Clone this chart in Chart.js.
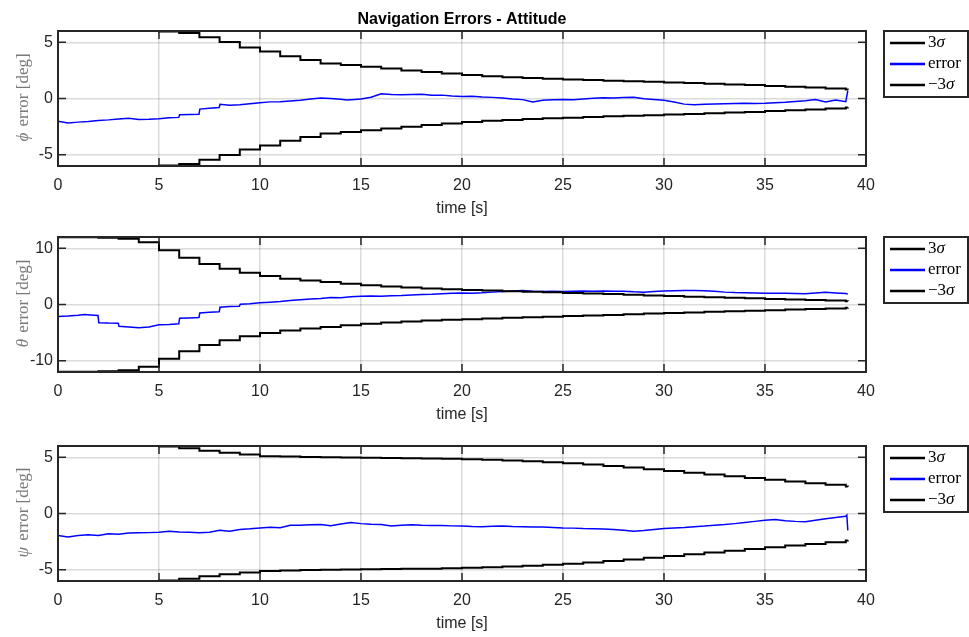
<!DOCTYPE html>
<html>
<head>
<meta charset="utf-8">
<script src="https://cdn.jsdelivr.net/npm/chart.js@4.4.1/dist/chart.umd.min.js"></script>
<style>
  html, body { margin: 0; padding: 0; background: #fff; }
  #wrap { position: relative; width: 969px; height: 637px; overflow: hidden; }
  canvas { position: absolute; left: 0; }
</style>
</head>
<body>
<div id="wrap">
  <canvas id="c1" width="969" height="222" style="top:0px"></canvas>
  <canvas id="c2" width="969" height="222" style="top:206px"></canvas>
  <canvas id="c3" width="969" height="222" style="top:415px"></canvas>
</div>
<script>
// ---- data ----
const chartTitle = 'Navigation Errors - Attitude';
const xLabel = 'time [s]';
const xTicks = [0, 5, 10, 15, 20, 25, 30, 35, 40];
const legendLabels = ['3σ', 'error', '−3σ'];

const yLabel1 = ['ϕ', ' error [deg]'];
const yLabel2 = ['θ', ' error [deg]'];
const yLabel3 = ['ψ', ' error [deg]'];
const yTicks1 = [-5, 0, 5];
const yTicks2 = [-10, 0, 10];
const yTicks3 = [-5, 0, 5];
const yRange1 = [-6, 6];
const yRange2 = [-12, 12];
const yRange3 = [-6, 6];

// 3-sigma bound, one value per filter step (seconds)
const sigT = [0, 1, 2, 3, 4, 5, 6, 7, 8, 9, 10, 11, 12, 13, 14, 15, 16, 17, 18, 19,
  20, 21, 22, 23, 24, 25, 26, 27, 28, 29, 30, 31, 32, 33, 34, 35, 36, 37, 38, 39, 39.1];
const sig1 = [6.0, 6.0, 6.0, 6.0, 6.0, 5.96, 5.82, 5.44, 5.02, 4.54, 4.18, 3.76, 3.42, 3.12, 2.98,
  2.82, 2.66, 2.5, 2.36, 2.22, 2.08, 1.98, 1.9, 1.82, 1.76, 1.7, 1.64, 1.58, 1.53, 1.48,
  1.43, 1.37, 1.31, 1.25, 1.19, 1.12, 1.05, 0.97, 0.89, 0.8, 0.78];
const sig2 = [11.95, 11.95, 11.85, 11.7, 11.05, 9.65, 8.3, 7.2, 6.35, 5.65, 5.05, 4.6, 4.25, 4.0, 3.7,
  3.42, 3.2, 3.02, 2.86, 2.72, 2.6, 2.48, 2.37, 2.26, 2.16, 2.06, 1.96, 1.85, 1.74, 1.62,
  1.5, 1.4, 1.3, 1.2, 1.1, 1.0, 0.9, 0.8, 0.7, 0.58, 0.56];
const sig3 = [6.0, 6.0, 6.0, 6.0, 6.0, 5.95, 5.79, 5.58, 5.4, 5.24, 5.1, 5.06, 5.03, 5.0, 4.98,
  4.96, 4.94, 4.92, 4.9, 4.87, 4.83, 4.78, 4.72, 4.64, 4.55, 4.46, 4.35, 4.22, 4.08, 3.93,
  3.78, 3.62, 3.47, 3.32, 3.16, 3.0, 2.85, 2.7, 2.55, 2.4, 2.38];

// estimation errors
const e1T = [0, 0.5, 1, 1.5, 2, 2.5, 3, 3.5, 4, 4.5, 5, 5.5, 5.98, 6.02, 6.5, 6.98, 7.02, 7.5, 7.98, 8.02,
  8.5, 9, 9.5, 10, 10.5, 11, 11.5, 12, 12.5, 13, 13.5, 14, 14.3, 14.7, 15, 15.5, 16, 16.5, 17, 17.5,
  18, 18.5, 19, 19.5, 20, 20.5, 21, 21.5, 22, 22.5, 23, 23.5, 24, 24.5, 25, 25.5, 26, 26.5, 27, 27.5,
  28, 28.5, 29, 29.5, 30, 30.5, 31, 31.5, 32, 32.5, 33, 33.5, 34, 34.5, 35, 35.5, 36, 36.5, 37, 37.5,
  38, 38.5, 39, 39.1];
const e1 = [-2.02, -2.18, -2.1, -2.04, -1.96, -1.9, -1.82, -1.76, -1.86, -1.84, -1.8, -1.72, -1.68, -1.44, -1.42, -1.4, -0.94, -0.86, -0.8, -0.52,
  -0.6, -0.55, -0.46, -0.38, -0.3, -0.28, -0.22, -0.16, -0.04, 0.04, 0.0, -0.06, -0.14, -0.08, -0.04, 0.12, 0.42, 0.36, 0.34, 0.36,
  0.38, 0.3, 0.3, 0.22, 0.18, 0.2, 0.14, 0.1, 0.04, -0.04, -0.1, -0.32, -0.16, -0.12, -0.1, -0.12, -0.04, 0.02, 0.06, 0.04,
  0.08, 0.12, -0.02, -0.08, -0.16, -0.32, -0.5, -0.56, -0.52, -0.48, -0.46, -0.44, -0.42, -0.44, -0.42, -0.38, -0.34, -0.26, -0.2, -0.1,
  -0.3, -0.14, -0.28, 0.7];

const e2T = [0, 0.5, 1, 1.3, 1.6, 1.98, 2.02, 2.5, 2.98, 3.02, 3.5, 4, 4.5, 5, 5.5, 5.98, 6.02, 6.5, 6.98, 7.02,
  7.5, 7.98, 8.02, 8.5, 8.98, 9.02, 9.5, 10, 10.5, 11, 11.5, 12, 12.5, 13, 13.5, 14, 14.5, 15, 15.5, 16,
  16.5, 17, 17.5, 18, 18.5, 19, 19.5, 20, 20.5, 21, 21.5, 22, 22.5, 23, 23.5, 24, 24.5, 25, 25.5, 26,
  26.5, 27, 27.5, 28, 28.5, 29, 29.5, 30, 30.5, 31, 31.5, 32, 32.5, 33, 33.5, 34, 34.5, 35, 35.5, 36,
  36.5, 37, 37.5, 38, 38.5, 39, 39.1];
const e2 = [-2.12, -2.06, -1.92, -1.78, -1.86, -1.94, -3.24, -3.3, -3.32, -3.88, -3.98, -4.14, -4.0, -3.62, -3.56, -3.44, -2.44, -2.38, -2.3, -1.5,
  -1.38, -1.3, -0.5, -0.36, -0.3, 0.04, 0.12, 0.3, 0.4, 0.52, 0.7, 0.84, 0.96, 1.08, 1.26, 1.2, 1.36, 1.48, 1.52, 1.46,
  1.56, 1.6, 1.7, 1.78, 1.82, 1.9, 2.0, 2.06, 2.02, 2.08, 2.2, 2.3, 2.4, 2.48, 2.36, 2.3, 2.34, 2.3, 2.36, 2.38,
  2.34, 2.38, 2.36, 2.36, 2.26, 2.2, 2.3, 2.38, 2.46, 2.48, 2.5, 2.46, 2.34, 2.2, 2.12, 2.08, 2.04, 2.0, 2.02, 2.0,
  1.94, 1.9, 2.04, 2.18, 2.06, 1.96, 1.84];

const e3T = [0, 0.5, 1, 1.5, 2, 2.5, 3, 3.5, 4, 4.5, 5, 5.5, 6, 6.5, 7, 7.5, 8, 8.5, 9, 9.5,
  10, 10.5, 11, 11.5, 12, 12.5, 13, 13.5, 14, 14.5, 15, 15.5, 16, 16.5, 17, 17.5, 18, 18.5, 19, 19.5,
  20, 20.5, 21, 21.5, 22, 22.5, 23, 23.5, 24, 24.5, 25, 25.5, 26, 26.5, 27, 27.5, 28, 28.5, 29, 29.5,
  30, 30.5, 31, 31.5, 32, 32.5, 33, 33.5, 34, 34.5, 35, 35.5, 36, 36.5, 37, 37.5, 38, 38.5, 39, 39.05, 39.1];
const e3 = [-1.96, -2.08, -1.96, -1.88, -1.96, -1.8, -1.84, -1.74, -1.72, -1.7, -1.66, -1.58, -1.64, -1.66, -1.7, -1.66, -1.5, -1.58, -1.42, -1.36,
  -1.28, -1.22, -1.26, -1.04, -1.04, -1.0, -0.98, -1.08, -0.94, -0.8, -0.9, -0.96, -0.98, -1.12, -1.04, -1.0, -1.04, -1.06, -1.06, -1.1,
  -1.12, -1.16, -1.18, -1.14, -1.12, -1.16, -1.18, -1.2, -1.2, -1.24, -1.28, -1.3, -1.34, -1.36, -1.38, -1.42, -1.48, -1.58, -1.52, -1.42,
  -1.34, -1.28, -1.24, -1.18, -1.12, -1.04, -0.98, -0.9, -0.8, -0.7, -0.6, -0.54, -0.64, -0.7, -0.74, -0.6, -0.46, -0.36, -0.24, -0.14, -1.5];

// ---- styling ----
const axisColor = '#262626';
const sansFont = '"Liberation Sans", Arial, Helvetica, sans-serif';
const serifFont = '"Liberation Serif", "DejaVu Serif", "Times New Roman", serif';

const toPoints = (ts, vs, sign = 1) => ts.map((t, i) => ({ x: t, y: sign * vs[i] }));

// draws the MATLAB-like box, inward ticks, axis labels and legend
const matlabAxes = {
  id: 'matlabAxes',
  afterDatasetsDraw(chart, args, opts) {
    const { ctx, chartArea: a, scales } = chart;
    ctx.save();

    // inward tick marks on all four sides
    ctx.strokeStyle = axisColor;
    ctx.lineWidth = 1.5;
    ctx.beginPath();
    xTicks.forEach(v => {
      const px = scales.x.getPixelForValue(v);
      ctx.moveTo(px, a.bottom); ctx.lineTo(px, a.bottom - 8);
      ctx.moveTo(px, a.top); ctx.lineTo(px, a.top + 8);
    });
    opts.yTicks.forEach(v => {
      const py = scales.y.getPixelForValue(v);
      ctx.moveTo(a.left, py); ctx.lineTo(a.left + 8, py);
      ctx.moveTo(a.right, py); ctx.lineTo(a.right - 8, py);
    });
    ctx.stroke();

    ctx.lineWidth = 2;
    ctx.strokeRect(a.left, a.top, a.right - a.left, a.bottom - a.top);

    // x axis label
    ctx.fillStyle = axisColor;
    ctx.font = '16px ' + sansFont;
    ctx.textAlign = 'center';
    ctx.textBaseline = 'middle';
    ctx.fillText(xLabel, (a.left + a.right) / 2, a.bottom + 43);

    // title (first panel only)
    if (opts.title) {
      ctx.font = 'bold 16px ' + sansFont;
      ctx.textBaseline = 'alphabetic';
      ctx.fillStyle = '#000';
      ctx.fillText(opts.title, (a.left + a.right) / 2, 24);
    }

    // y axis label, rotated, greek symbol in italic
    ctx.save();
    ctx.translate(24, (a.top + a.bottom) / 2);
    ctx.rotate(-Math.PI / 2);
    ctx.fillStyle = '#7a7a7a';
    ctx.textBaseline = 'middle';
    ctx.textAlign = 'left';
    const symFont = 'italic 17px ' + serifFont;
    const txtFont = '17px ' + serifFont;
    ctx.font = symFont;
    const w1 = ctx.measureText(opts.yLabel[0]).width;
    ctx.font = txtFont;
    const w2 = ctx.measureText(opts.yLabel[1]).width;
    let sx = -(w1 + w2) / 2;
    ctx.font = symFont;
    ctx.fillText(opts.yLabel[0], sx, 0);
    ctx.font = txtFont;
    ctx.fillText(opts.yLabel[1], sx + w1 + 2, 0);
    ctx.restore();

    // legend box
    const lx = 884, ly = a.top, lw = 84, lh = 66;
    ctx.fillStyle = '#fff';
    ctx.fillRect(lx, ly, lw, lh);
    ctx.strokeStyle = axisColor;
    ctx.lineWidth = 2;
    ctx.strokeRect(lx, ly, lw, lh);
    chart.data.datasets.forEach((ds, i) => {
      const yy = ly + 12 + i * 21;
      ctx.strokeStyle = ds.borderColor;
      ctx.lineWidth = 2.5;
      ctx.beginPath();
      ctx.moveTo(890, yy); ctx.lineTo(925, yy);
      ctx.stroke();
      let tx = 928;
      ctx.fillStyle = '#000';
      ctx.textBaseline = 'middle';
      ctx.textAlign = 'left';
      for (const ch of ds.label) {
        ctx.font = (/[\u0370-\u03ff]/.test(ch) ? 'italic ' : '') + '17px ' + serifFont;
        ctx.fillText(ch, tx, yy);
        tx += ctx.measureText(ch).width;
      }
    });

    ctx.restore();
  }
};

function makePanel(id, sig, eT, e, yRange, yTicks, yLab, title) {
  const ctx = document.getElementById(id).getContext('2d');
  return new Chart(ctx, {
    type: 'line',
    data: {
      datasets: [
        { label: legendLabels[0], data: toPoints(sigT, sig), borderColor: '#000', borderWidth: 2, stepped: true, pointRadius: 0 },
        { label: legendLabels[1], data: toPoints(eT, e), borderColor: '#0000ff', borderWidth: 1.5, pointRadius: 0, tension: 0 },
        { label: legendLabels[2], data: toPoints(sigT, sig, -1), borderColor: '#000', borderWidth: 2, stepped: true, pointRadius: 0 }
      ]
    },
    options: {
      responsive: false,
      animation: false,
      devicePixelRatio: 1,
      layout: { padding: { top: 31, left: 18, right: 103, bottom: 0 } },
      plugins: {
        legend: { display: false },
        tooltip: { enabled: false },
        matlabAxes: { yTicks: yTicks, yLabel: yLab, title: title }
      },
      scales: {
        x: {
          type: 'linear',
          min: 0,
          max: 40,
          afterBuildTicks: s => { s.ticks = xTicks.map(v => ({ value: v })); },
          afterFit: s => { s.height = 56; },
          grid: { color: 'rgba(0,0,0,0.14)', lineWidth: 1.5, drawTicks: false },
          border: { display: false },
          ticks: { color: axisColor, font: { family: sansFont, size: 16 }, padding: 10, maxRotation: 0 }
        },
        y: {
          min: yRange[0],
          max: yRange[1],
          afterBuildTicks: s => { s.ticks = yTicks.map(v => ({ value: v })); },
          afterFit: s => { s.width = 40; },
          grid: { color: 'rgba(0,0,0,0.14)', lineWidth: 1.5, drawTicks: false },
          border: { display: false },
          ticks: { color: axisColor, font: { family: sansFont, size: 16 }, padding: 5 }
        }
      }
    },
    plugins: [matlabAxes]
  });
}

makePanel('c1', sig1, e1T, e1, yRange1, yTicks1, yLabel1, chartTitle);
makePanel('c2', sig2, e2T, e2, yRange2, yTicks2, yLabel2, null);
makePanel('c3', sig3, e3T, e3, yRange3, yTicks3, yLabel3, null);
</script>
</body>
</html>
